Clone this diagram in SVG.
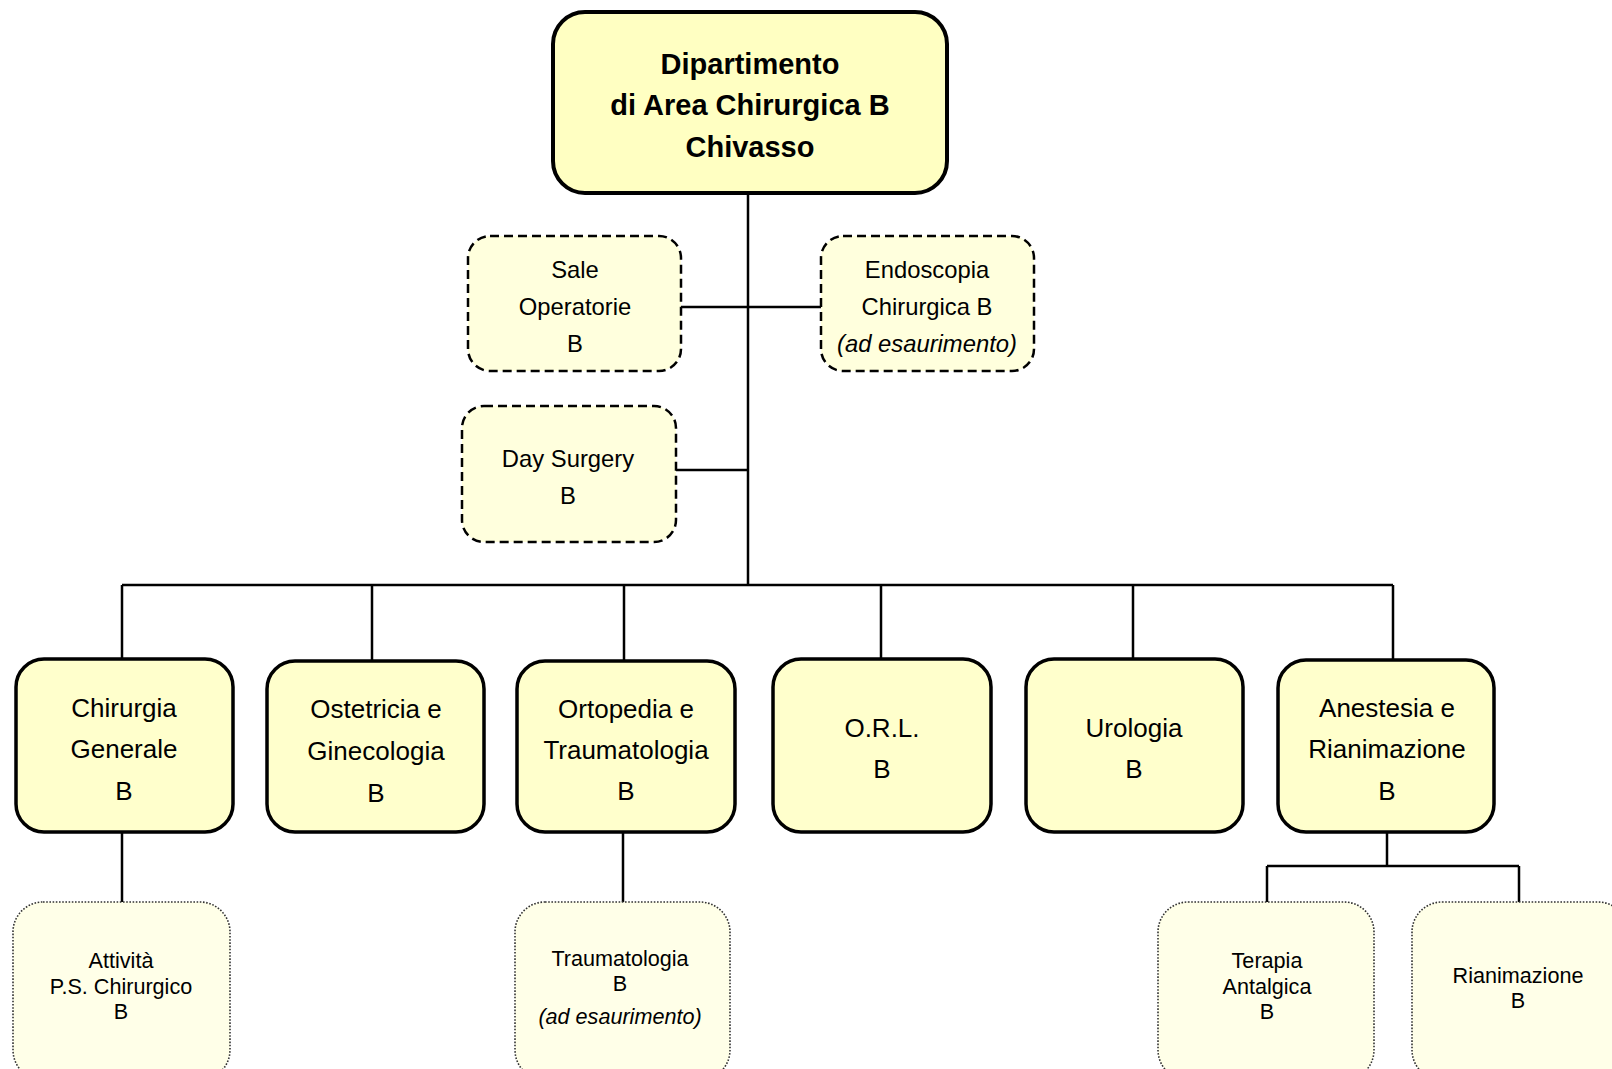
<svg xmlns="http://www.w3.org/2000/svg" width="1612" height="1069" viewBox="0 0 1612 1069">
<style>
text{font-family:"Liberation Sans",Arial,sans-serif;fill:#000;text-anchor:middle}
.top{fill:#FFFFC2;stroke:#000;stroke-width:4}
.l1{fill:#FFFFCC;stroke:#000;stroke-width:3.5}
.dash{fill:#FFFFDD;stroke:#000;stroke-width:2.5;stroke-dasharray:9 5}
.dot{fill:#FFFFE8;stroke:#333;stroke-width:1.6;stroke-dasharray:1.6 1.6}
.t0{font-size:29px;font-weight:bold}
.t1{font-size:26px}
.t2{font-size:23.8px}
.t3{font-size:21.6px}
.it{font-style:italic}
#connectors path{fill:none;stroke:#000;stroke-width:2.5}
</style>
<rect width="1612" height="1069" fill="#fff"/>
<g id="connectors">
<path d="M748 193V585"/>
<path d="M681 307H821"/>
<path d="M676 470H748"/>
<path d="M122 585H1393"/>
<path d="M122 585V659M372 585V661M624 585V661M881 585V659M1133 585V659M1393 585V660"/>
<path d="M122 832V902M623 832V902"/>
<path d="M1387 832V866M1267 866H1519M1267 866V902M1519 866V902"/>
</g>
<g id="dipartimento">
<rect class="top" x="553" y="12" width="394" height="181" rx="32"/>
<text class="t0" x="750" y="74">Dipartimento</text>
<text class="t0" x="750" y="115">di Area Chirurgica B</text>
<text class="t0" x="750" y="157">Chivasso</text>
</g>
<g id="sale-operatorie">
<rect class="dash" x="468" y="236" width="213" height="135" rx="22"/>
<text class="t2" x="575" y="278">Sale</text>
<text class="t2" x="575" y="315">Operatorie</text>
<text class="t2" x="575" y="352">B</text>
</g>
<g id="endoscopia">
<rect class="dash" x="821" y="236" width="213" height="135" rx="22"/>
<text class="t2" x="927" y="278">Endoscopia</text>
<text class="t2" x="927" y="315">Chirurgica B</text>
<text class="t2 it" x="927" y="352">(ad esaurimento)</text>
</g>
<g id="day-surgery">
<rect class="dash" x="462" y="406" width="214" height="136" rx="22"/>
<text class="t2" x="568" y="467">Day Surgery</text>
<text class="t2" x="568" y="504">B</text>
</g>
<g id="chirurgia-generale">
<rect class="l1" x="16" y="659" width="217" height="173" rx="28"/>
<text class="t1" x="124" y="717">Chirurgia</text>
<text class="t1" x="124" y="758">Generale</text>
<text class="t1" x="124" y="800">B</text>
</g>
<g id="ostetricia">
<rect class="l1" x="267" y="661" width="217" height="171" rx="28"/>
<text class="t1" x="376" y="718">Ostetricia e</text>
<text class="t1" x="376" y="760">Ginecologia</text>
<text class="t1" x="376" y="802">B</text>
</g>
<g id="ortopedia">
<rect class="l1" x="517" y="661" width="218" height="171" rx="28"/>
<text class="t1" x="626" y="718">Ortopedia e</text>
<text class="t1" x="626" y="759">Traumatologia</text>
<text class="t1" x="626" y="800">B</text>
</g>
<g id="orl">
<rect class="l1" x="773" y="659" width="218" height="173" rx="28"/>
<text class="t1" x="882" y="737">O.R.L.</text>
<text class="t1" x="882" y="778">B</text>
</g>
<g id="urologia">
<rect class="l1" x="1026" y="659" width="217" height="173" rx="28"/>
<text class="t1" x="1134" y="737">Urologia</text>
<text class="t1" x="1134" y="778">B</text>
</g>
<g id="anestesia">
<rect class="l1" x="1278" y="660" width="216" height="172" rx="28"/>
<text class="t1" x="1387" y="717">Anestesia e</text>
<text class="t1" x="1387" y="758">Rianimazione</text>
<text class="t1" x="1387" y="800">B</text>
</g>
<g id="attivita-ps">
<rect class="dot" x="13" y="902" width="217" height="178" rx="30"/>
<text class="t3" x="121" y="968">Attività</text>
<text class="t3" x="121" y="994">P.S. Chirurgico</text>
<text class="t3" x="121" y="1019">B</text>
</g>
<g id="traumatologia">
<rect class="dot" x="515" y="902" width="215" height="178" rx="30"/>
<text class="t3" x="620" y="966">Traumatologia</text>
<text class="t3" x="620" y="991">B</text>
<text class="t3 it" x="620" y="1024">(ad esaurimento)</text>
</g>
<g id="terapia-antalgica">
<rect class="dot" x="1158" y="902" width="216" height="178" rx="30"/>
<text class="t3" x="1267" y="968">Terapia</text>
<text class="t3" x="1267" y="994">Antalgica</text>
<text class="t3" x="1267" y="1019">B</text>
</g>
<g id="rianimazione">
<rect class="dot" x="1412" y="902" width="216" height="178" rx="30"/>
<text class="t3" x="1518" y="983">Rianimazione</text>
<text class="t3" x="1518" y="1008">B</text>
</g>
</svg>
